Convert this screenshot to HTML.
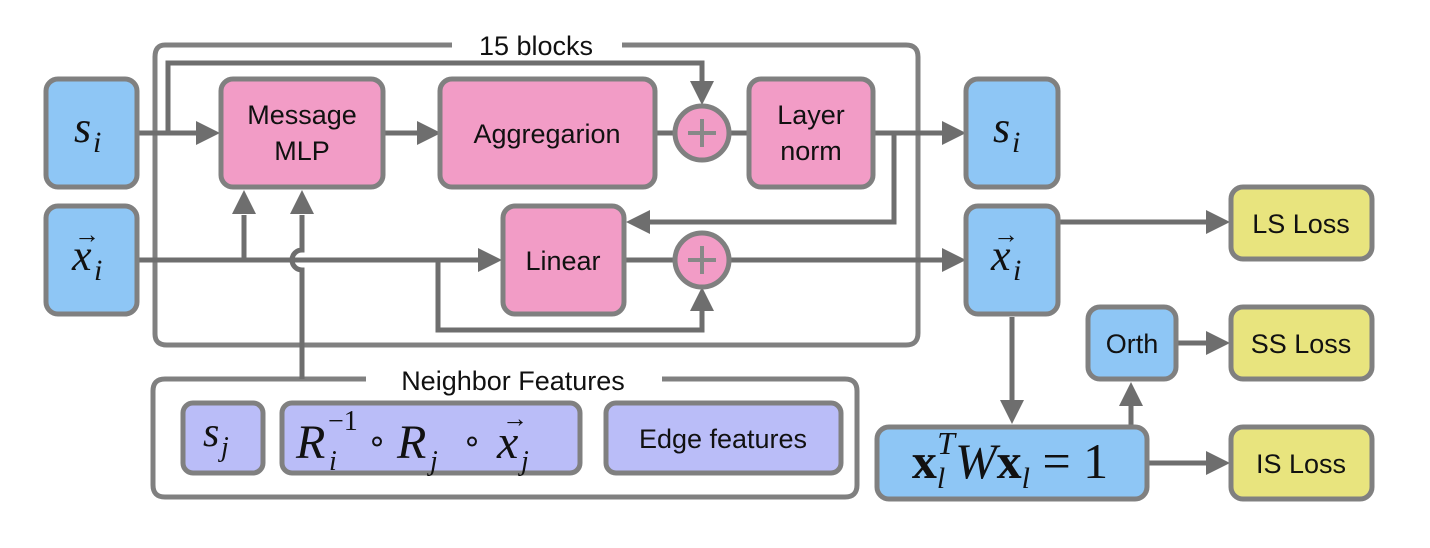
<!DOCTYPE html>
<html><head><meta charset="utf-8"><style>
html,body{margin:0;padding:0;background:#fff;}
svg{display:block;}
.b{stroke:#808080;stroke-width:5;}
.l{stroke:#6e6e6e;stroke-width:5;fill:none;}
.a{fill:#6e6e6e;}
.t{font-family:"Liberation Sans",sans-serif;font-size:27px;fill:#111;text-anchor:middle;}
.m{font-family:"Liberation Serif",serif;font-style:italic;fill:#111;}
.s{font-family:"Liberation Serif",serif;fill:#111;}
</style></head><body>
<svg width="1430" height="548" viewBox="0 0 1430 548" xmlns="http://www.w3.org/2000/svg">
<rect x="0" y="0" width="1430" height="548" fill="#fff"/>
<path d="M452 45 H165 Q155 45 155 57 V334 Q155 345 167 345 H906 Q918 345 918 333 V57 Q918 45 906 45 H622" fill="none" stroke="#808080" stroke-width="5"/>
<text class="t" x="536" y="55" font-size="28">15 blocks</text>
<path d="M366 379 H165 Q153 379 153 391 V485 Q153 497 165 497 H845 Q857 497 857 485 V391 Q857 379 845 379 H662" fill="none" stroke="#808080" stroke-width="5"/>
<text class="t" x="513" y="390" font-size="28">Neighbor Features</text>

<path class="l" d="M137 133 H200"/>
<path class="l" d="M168 133 V63 H702 V92"/>
<path class="l" d="M383 133 H418"/>
<path class="l" d="M655 133 H674 M730 133 H749"/>
<path class="l" d="M873 133 H945"/>
<path class="l" d="M894 133 V222 H648"/>
<path class="l" d="M137 260 H480"/>
<path class="l" d="M244 260 V215"/>
<path class="l" d="M302 379 V270 A10 10 0 0 1 302 250 V215"/>
<path class="l" d="M438 260 V330 H702 V308"/>
<path class="l" d="M624 260 H674 M730 260 H945"/>
<path class="l" d="M1059 222 H1208"/>
<path class="l" d="M1012 317 V403"/>
<path class="l" d="M1131 425 V402"/>
<path class="l" d="M1177 343 H1208"/>
<path class="l" d="M1149 463 H1208"/>
<polygon class="a" points="220,133 196,121 196,145"/>
<polygon class="a" points="441,133 417,121 417,145"/>
<polygon class="a" points="702,105 690,81 714,81"/>
<polygon class="a" points="966,133 942,121 942,145"/>
<polygon class="a" points="626,222 650,210 650,234"/>
<polygon class="a" points="502,260 478,248 478,272"/>
<polygon class="a" points="244,190 232,214 256,214"/>
<polygon class="a" points="302,190 290,214 314,214"/>
<polygon class="a" points="702,287 690,311 714,311"/>
<polygon class="a" points="966,260 942,248 942,272"/>
<polygon class="a" points="1230,222 1206,210 1206,234"/>
<polygon class="a" points="1012,424 1000,400 1024,400"/>
<polygon class="a" points="1131,382 1119,406 1143,406"/>
<polygon class="a" points="1230,343 1206,331 1206,355"/>
<polygon class="a" points="1230,463 1206,451 1206,475"/>

<rect class="b" x="46" y="79" width="91" height="108" rx="12" fill="#8ec6f5"/>
<rect class="b" x="46" y="206" width="91" height="108" rx="12" fill="#8ec6f5"/>
<rect class="b" x="221" y="79" width="162" height="108" rx="12" fill="#f29cc6"/>
<rect class="b" x="440" y="79" width="215" height="108" rx="12" fill="#f29cc6"/>
<rect class="b" x="749" y="79" width="124" height="108" rx="12" fill="#f29cc6"/>
<rect class="b" x="503" y="206" width="121" height="108" rx="12" fill="#f29cc6"/>
<circle class="b" cx="702" cy="133" r="27" fill="#f29cc6"/>
<circle class="b" cx="702" cy="260" r="27" fill="#f29cc6"/>
<path d="M688 133 H716 M702 119 V147 M688 260 H716 M702 246 V274" stroke="#888" stroke-width="4"/>
<rect class="b" x="966" y="79" width="92" height="108" rx="12" fill="#8ec6f5"/>
<rect class="b" x="966" y="206" width="92" height="108" rx="12" fill="#8ec6f5"/>
<rect class="b" x="1231" y="187" width="141" height="72" rx="12" fill="#e8e47e"/>
<rect class="b" x="1231" y="307" width="141" height="72" rx="12" fill="#e8e47e"/>
<rect class="b" x="1231" y="427" width="141" height="72" rx="12" fill="#e8e47e"/>
<rect class="b" x="1088" y="307" width="88" height="72" rx="12" fill="#8ec6f5"/>
<rect class="b" x="877" y="427" width="270" height="72" rx="12" fill="#8ec6f5"/>
<rect class="b" x="183" y="403" width="80" height="70" rx="10" fill="#babdf8"/>
<rect class="b" x="282" y="403" width="298" height="70" rx="10" fill="#babdf8"/>
<rect class="b" x="606" y="403" width="235" height="70" rx="10" fill="#babdf8"/>

<text class="t" x="302" y="124">Message</text>
<text class="t" x="302" y="160">MLP</text>
<text class="t" x="547" y="143">Aggregarion</text>
<text class="t" x="811" y="124">Layer</text>
<text class="t" x="811" y="160">norm</text>
<text class="t" x="563" y="270">Linear</text>
<text class="t" x="1301" y="233">LS Loss</text>
<text class="t" x="1301" y="353">SS Loss</text>
<text class="t" x="1301" y="473">IS Loss</text>
<text class="t" x="1132" y="353">Orth</text>
<text class="t" x="723" y="448">Edge features</text>

<text class="m" x="74" y="142" font-size="44">s</text><text class="m" x="93" y="152" font-size="30">i</text>
<text class="m" x="72" y="270" font-size="44">x</text><text class="m" x="94" y="280" font-size="30">i</text>
<text class="s" x="74" y="243" font-size="26">→</text>
<text class="m" x="993" y="142" font-size="44">s</text><text class="m" x="1012" y="152" font-size="30">i</text>
<text class="m" x="991" y="270" font-size="44">x</text><text class="m" x="1013" y="280" font-size="30">i</text>
<text class="s" x="993" y="243" font-size="26">→</text>
<text class="m" x="203" y="446" font-size="42">s</text><text class="m" x="221" y="456" font-size="28">j</text>
<text class="m" x="296" y="458" font-size="48">R</text>
<text class="s" x="328" y="430" font-size="28">−1</text>
<text class="m" x="329" y="470" font-size="28">i</text>
<text class="s" x="367" y="452" font-size="32">∘</text>
<text class="m" x="397" y="458" font-size="48">R</text><text class="m" x="430" y="470" font-size="28">j</text>
<text class="s" x="462" y="452" font-size="32">∘</text>
<text class="m" x="497" y="458" font-size="48">x</text><text class="m" x="521" y="470" font-size="28">j</text>
<text class="s" x="502" y="427" font-size="26">→</text>
<text x="1010" y="478" font-family="Liberation Serif" font-size="50" text-anchor="middle" fill="#111"><tspan font-weight="bold">x</tspan><tspan font-style="italic" font-size="30" dy="10">l</tspan><tspan font-style="italic" font-size="32" dx="-8" dy="-34">T</tspan><tspan font-style="italic" dy="24">W</tspan><tspan font-weight="bold">x</tspan><tspan font-style="italic" font-size="30" dy="10">l</tspan><tspan dy="-10"> = 1</tspan></text>
</svg>
</body></html>
